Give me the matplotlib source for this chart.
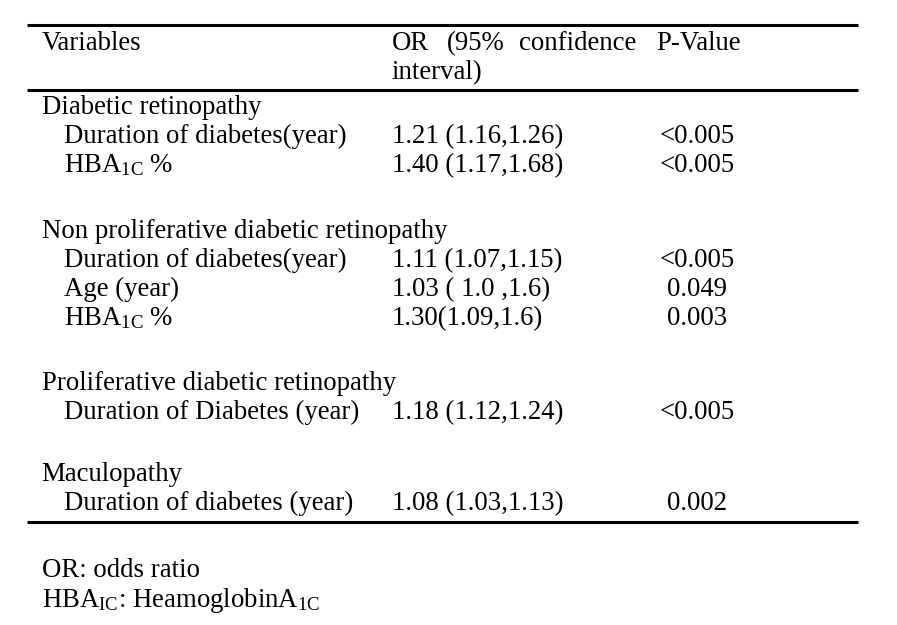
import matplotlib
matplotlib.use("Agg")
import matplotlib.pyplot as plt

plt.rcParams['font.family'] = ['Liberation Serif', 'DejaVu Serif']
plt.rcParams['mathtext.fontset'] = 'custom'
plt.rcParams['mathtext.rm'] = 'Liberation Serif'
plt.rcParams['mathtext.it'] = 'Liberation Serif:italic'

# header
header_var = "Variables"
header_or = ["OR", "(95%", "confidence", "interval)"]
header_p = "P-Value"

# groups and their rows
groups = ["Diabetic retinopathy",
          "Non proliferative diabetic retinopathy",
          "Proliferative diabetic retinopathy",
          "Maculopathy"]
variables = [
    ["Duration of diabetes(year)", r"HBA$_{\mathrm{1C}}$ %"],
    ["Duration of diabetes(year)", "Age (year)", r"HBA$_{\mathrm{1C}}$ %"],
    ["Duration of Diabetes (year)"],
    ["Duration of diabetes (year)"],
]
odds = [
    ["1.21 (1.16,1.26)", "1.40 (1.17,1.68)"],
    ["1.11 (1.07,1.15)", "1.03 ( 1.0 ,1.6)", "1.30(1.09,1.6)"],
    ["1.18 (1.12,1.24)"],
    ["1.08 (1.03,1.13)"],
]
pvals = [
    ["<0.005", "<0.005"],
    ["<0.005", "0.049", "0.003"],
    ["<0.005"],
    ["0.002"],
]
notes = ["OR: odds ratio",
         r"HBA$_{\mathrm{IC}}$: HeamoglobinA$_{\mathrm{1C}}$"]

fig = plt.figure(figsize=(8.97, 6.25), dpi=100)
ax = fig.add_axes([0, 0, 1, 1])
ax.set_xlim(0, 897)
ax.set_ylim(625, 0)
ax.axis('off')

fs = 19.3
x_var, x_sub, x_or, x_p = 41.5, 63.5, 391.5, 697.5
step = 29
group_y = [114, 238, 390, 481]   # baseline of each group title

# rules
for yr in [25, 90, 521.5]:
    ax.plot([27, 858], [yr, yr], color='black', lw=2.2, solid_capstyle='butt')

# header (OR column is justified over the two words)
ax.text(x_var, 50, header_var, fontsize=fs, va='baseline')
ax.text(x_or, 50, header_or[0], fontsize=fs, va='baseline')
ax.text(447, 50, header_or[1], fontsize=fs, va='baseline')
ax.text(636, 50, header_or[2], fontsize=fs, va='baseline', ha='right')
ax.text(x_or, 79, header_or[3], fontsize=fs, va='baseline')
ax.text(656, 50, header_p, fontsize=fs, va='baseline')

for g, vs, os, ps, gy in zip(groups, variables, odds, pvals, group_y):
    ax.text(x_var, gy, g, fontsize=fs, va='baseline')
    y = gy
    for v, o, p in zip(vs, os, ps):
        y += step
        ax.text(x_sub, y, v, fontsize=fs, va='baseline')
        ax.text(x_or, y, o, fontsize=fs, va='baseline')
        ax.text(x_p, y, p, fontsize=fs, va='baseline', ha='center')

ax.text(x_var, 577, notes[0], fontsize=fs, va='baseline')
ax.text(x_var, 607, notes[1], fontsize=fs, va='baseline')

fig.savefig("out.png", dpi=100)
